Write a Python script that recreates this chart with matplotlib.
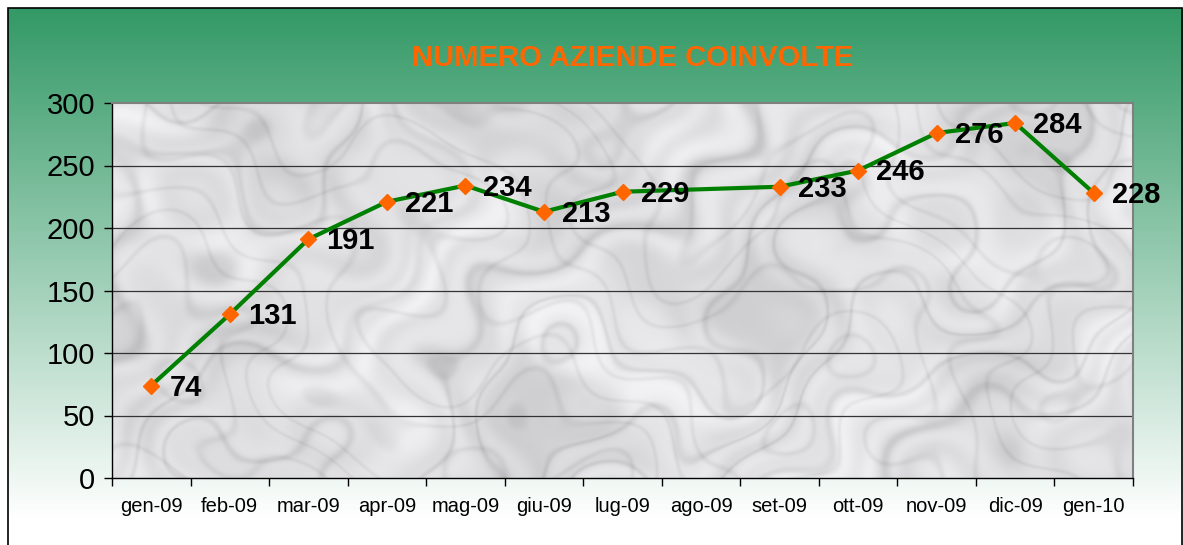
import matplotlib
matplotlib.use("Agg")
import matplotlib.pyplot as plt
import numpy as np
from matplotlib.patches import Rectangle

plt.rcParams["font.family"] = ["Liberation Sans", "DejaVu Sans"]

# data
mesi = ["gen-09", "feb-09", "mar-09", "apr-09", "mag-09", "giu-09", "lug-09",
        "ago-09", "set-09", "ott-09", "nov-09", "dic-09", "gen-10"]
aziende = [74, 131, 191, 221, 234, 213, 229, np.nan, 233, 246, 276, 284, 228]
titolo = "NUMERO AZIENDE COINVOLTE"

W, H = 1183, 545
fig = plt.figure(figsize=(W / 100, H / 100), dpi=100)
fig.patch.set_facecolor("white")

# green gradient background of the chart area
bg = fig.add_axes([8 / W, 0, 1 - 8 / W, 1 - 8 / H])
bg.set_axis_off()
t = np.linspace(0, 1, 256)[:, None]
top = np.array([0.20, 0.60, 0.40])
bot = np.array([1.0, 1.0, 1.0])
grad = top + (bot - top) * np.clip(t * 1.05, 0, 1)[..., None]
grad = np.repeat(grad, 2, axis=1)
bg.imshow(grad, aspect="auto", extent=[0, 1, 0, 1], origin="upper")
bg.set_xlim(0, 1)
bg.set_ylim(0, 1)
fig.add_artist(Rectangle((8 / W, -0.01), 1 - 8 / W - 1 / W, 1 - 8 / H + 0.01,
                         transform=fig.transFigure, fill=False,
                         edgecolor="black", lw=1.2))

ax = fig.add_axes([112 / W, 1 - 478 / H, (1133 - 112) / W, (478 - 103) / H])

# marble-like texture for plot area (deterministic, decoration only)
yy, xx = np.mgrid[0:250, 0:680] / 70.0
wx = xx + 0.6 * np.sin(yy * 2.3 + xx * 0.8) + 0.3 * np.sin(yy * 5.1 - xx * 3.7)
wy = yy + 0.6 * np.cos(xx * 1.9 - yy * 0.6) + 0.3 * np.cos(xx * 4.3 + yy * 3.1)
v1 = np.sin(wx * 2.1 + wy * 2.8 + 1.7 * np.sin(wy * 1.3 + wx * 0.5))
v2 = np.sin(wx * 3.3 - wy * 4.1 + 2.1 * np.cos(wx * 1.1 + wy * 0.9))
v3 = np.sin(wx * 0.9 + wy * 1.3) * np.cos(wx * 1.7 - wy * 0.8)
veins = 0.07 * np.exp(-v1 ** 2 / 0.05) + 0.05 * np.exp(-v2 ** 2 / 0.06)
cloud = 0.05 * v3 + 0.02 * np.sin(wx * 7.1 + wy * 6.3)
marble = np.clip(0.88 - veins + cloud, 0.70, 0.96)
rgb = np.dstack([marble, marble, marble + 0.01])
ax.imshow(np.clip(rgb, 0, 1), aspect="auto", extent=[-0.5, 12.5, 0, 300],
          zorder=0, interpolation="bilinear")

x = np.arange(len(mesi))
y = np.array(aziende, dtype=float)
ok = ~np.isnan(y)
ax.plot(x[ok], y[ok], color="#008000", lw=3, zorder=3)
ax.plot(x[ok], y[ok], ls="none", marker="D", ms=8, color="#FF6600",
        mec="#FF6600", zorder=4)
for xi, yi in zip(x[ok], y[ok]):
    ax.annotate(f"{int(yi)}", (xi, yi), xytext=(18, -2),
                textcoords="offset pixels", ha="left", va="center",
                fontsize=21, fontweight="bold", color="black", zorder=5)

ax.set_xlim(-0.5, 12.5)
ax.set_ylim(0, 300)
ax.set_yticks(np.arange(0, 301, 50))
ax.set_xticks(x)
ax.set_xticklabels(mesi, fontsize=14.5)
ax.set_xticks(np.arange(-0.5, 13, 1), minor=True)
ax.tick_params(axis="x", which="major", length=0, pad=14)
ax.tick_params(axis="x", which="minor", length=6, color="black", width=1)
ax.tick_params(axis="y", labelsize=21, length=6, width=1, pad=6)
for g in range(50, 300, 50):
    ax.axhline(g, color="#333333", lw=0.9, zorder=1)
for s in ("top", "right"):
    ax.spines[s].set_color("#808080")
    ax.spines[s].set_linewidth(1.5)
for s in ("left", "bottom"):
    ax.spines[s].set_color("black")
    ax.spines[s].set_linewidth(1)

fig.text(633 / W, 1 - 58 / H, titolo, ha="center", va="center",
         fontsize=21, fontweight="bold", color="#FF6600")

fig.savefig("out.png", dpi=100)
